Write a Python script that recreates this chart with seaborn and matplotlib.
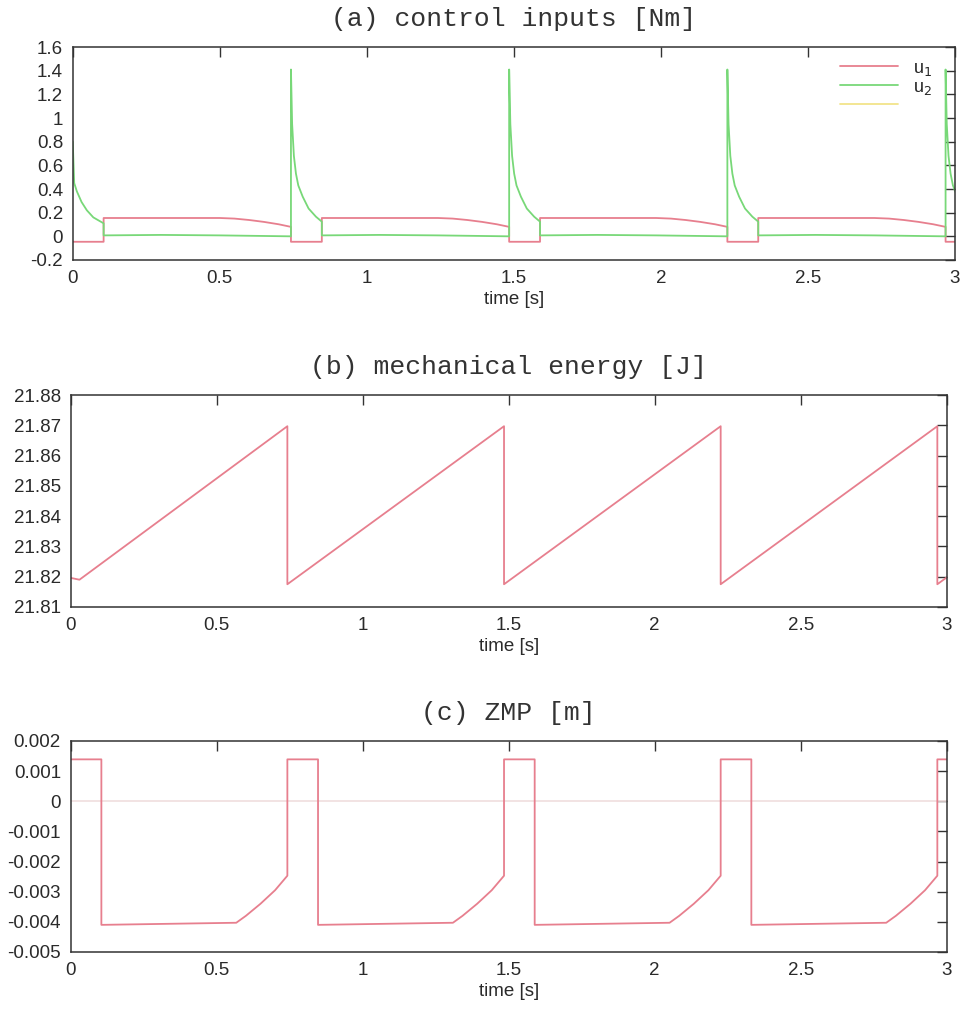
import numpy as np
import pandas as pd
import matplotlib
matplotlib.use("Agg")
import matplotlib.pyplot as plt
from matplotlib.lines import Line2D
import seaborn as sns

# ---------------- data ----------------
# step (impact) start times
step_starts = [0.0, 0.742, 1.484, 2.226, 2.968]

# u1 template over one step (phase after impact)
u1_phase = [0.0, 0.105, 0.105, 0.50, 0.55, 0.60, 0.65, 0.70, 0.742]
u1_vals = [-0.046, -0.046, 0.155, 0.155, 0.150, 0.138, 0.122, 0.102, 0.080]

# u2 template after an impact
u2_phase = [0.0, 0.004, 0.01, 0.017, 0.025, 0.04, 0.06, 0.085, 0.105,
            0.105, 0.30, 0.50, 0.742]
u2_vals = [1.41, 0.95, 0.68, 0.53, 0.43, 0.335, 0.235, 0.166, 0.124,
           0.008, 0.012, 0.008, 0.0]
# u2 in the very first step (initial condition)
u2_first_phase = [0.0, 0.005, 0.014, 0.03, 0.048, 0.07, 0.105,
                  0.105, 0.30, 0.50, 0.742]
u2_first_vals = [0.80, 0.45, 0.38, 0.29, 0.22, 0.16, 0.11,
                 0.008, 0.012, 0.008, 0.0]

# mechanical energy
E_first_phase = [0.0, 0.03, 0.742]
E_first_vals = [21.8196, 21.8190, 21.8697]
E_phase = [0.0, 0.742]
E_vals = [21.8175, 21.8697]

# ZMP
zmp_phase = [0.0, 0.105, 0.105, 0.567, 0.60, 0.65, 0.70, 0.742]
zmp_vals = [0.00139, 0.00139, -0.0041, -0.00403, -0.0038, -0.0034, -0.00295, -0.00247]

xticks = [0, 0.5, 1, 1.5, 2, 2.5, 3]
xtick_labels = ["0", "0.5", "1", "1.5", "2", "2.5", "3"]
yticks_a = [-0.2, 0, 0.2, 0.4, 0.6, 0.8, 1, 1.2, 1.4, 1.6]
ytick_labels_a = ["-0.2", "0", "0.2", "0.4", "0.6", "0.8", "1", "1.2", "1.4", "1.6"]
yticks_b = [21.81, 21.82, 21.83, 21.84, 21.85, 21.86, 21.87, 21.88]
ytick_labels_b = ["21.81", "21.82", "21.83", "21.84", "21.85", "21.86", "21.87", "21.88"]
yticks_c = [-0.005, -0.004, -0.003, -0.002, -0.001, 0, 0.001, 0.002]
ytick_labels_c = ["-0.005", "-0.004", "-0.003", "-0.002", "-0.001", "0", "0.001", "0.002"]

titles = ["(a) control inputs [Nm]", "(b) mechanical energy [J]", "(c) ZMP [m]"]
legend_labels = ["u$_1$", "u$_2$"]


def tile(phase, vals, first_phase=None, first_vals=None):
    t, v = [], []
    for k, s in enumerate(step_starts):
        ph, vv = (first_phase, first_vals) if (k == 0 and first_phase is not None) else (phase, vals)
        t.extend([s + p for p in ph])
        v.extend(vv)
    return pd.DataFrame({"t": t, "v": v})


df_u1 = tile(u1_phase, u1_vals)
df_u2 = tile(u2_phase, u2_vals, u2_first_phase, u2_first_vals)
df_E = tile(E_phase, E_vals, E_first_phase, E_first_vals)
df_z = tile(zmp_phase, zmp_vals)

# ---------------- style ----------------
sns.set_theme(style="white")
plt.rcParams["font.family"] = ["Liberation Sans", "DejaVu Sans"]
plt.rcParams["axes.edgecolor"] = "#333333"
plt.rcParams["axes.linewidth"] = 1.1

RED = "#e77f8e"
GREEN = "#78d878"
YELLOW = "#f2e48a"

fig = plt.figure(figsize=(9.66, 10.16), dpi=100)
ax_a = fig.add_axes([0.0753, 0.7441, 0.9133, 0.2096])
ax_b = fig.add_axes([0.0732, 0.4026, 0.9068, 0.2086])
ax_c = fig.add_axes([0.0732, 0.0630, 0.9068, 0.2077])

lw = 1.3
sns.lineplot(data=df_u1, x="t", y="v", ax=ax_a, color=RED, lw=lw,
             estimator=None, sort=False)
sns.lineplot(data=df_u2, x="t", y="v", ax=ax_a, color=GREEN, lw=lw,
             estimator=None, sort=False)

sns.lineplot(data=df_E, x="t", y="v", ax=ax_b, color=RED, lw=lw,
             estimator=None, sort=False)

ax_c.axhline(0, color="#f0dede", lw=1.2, zorder=1)
sns.lineplot(data=df_z, x="t", y="v", ax=ax_c, color=RED, lw=lw,
             estimator=None, sort=False)

ylims = [(-0.2, 1.6), (21.81, 21.88), (-0.005, 0.002)]
yts = [(yticks_a, ytick_labels_a), (yticks_b, ytick_labels_b), (yticks_c, ytick_labels_c)]
for ax, title, yl, (yt, ytl) in zip([ax_a, ax_b, ax_c], titles, ylims, yts):
    ax.set_xlim(0, 3)
    ax.set_ylim(*yl)
    ax.set_xticks(xticks)
    ax.set_xticklabels(xtick_labels)
    ax.set_yticks(yt)
    ax.set_yticklabels(ytl)
    ax.tick_params(direction="in", top=True, right=True, length=7, width=1.0,
                   color="#333333", labelsize=13.5, labelcolor="#2a2a2a", pad=7)
    ax.set_xlabel("time [s]", fontsize=13.5, color="#2a2a2a", labelpad=3)
    ax.set_ylabel("")
    ax.set_title(title, family=["Liberation Mono", "DejaVu Sans Mono"], fontsize=19,
                 color="#333333", pad=15)
    for sp in ax.spines.values():
        sp.set_visible(True)
        sp.set_color("#333333")

handles = [Line2D([], [], color=RED, lw=lw), Line2D([], [], color=GREEN, lw=lw),
           Line2D([], [], color=YELLOW, lw=lw)]
ax_a.legend(handles, legend_labels + [" "], loc="upper right", frameon=False,
            fontsize=13, handlelength=3.2, labelspacing=0.05, borderaxespad=0.3,
            bbox_to_anchor=(0.988, 1.0))

fig.savefig("out.png", dpi=100, facecolor="white")
